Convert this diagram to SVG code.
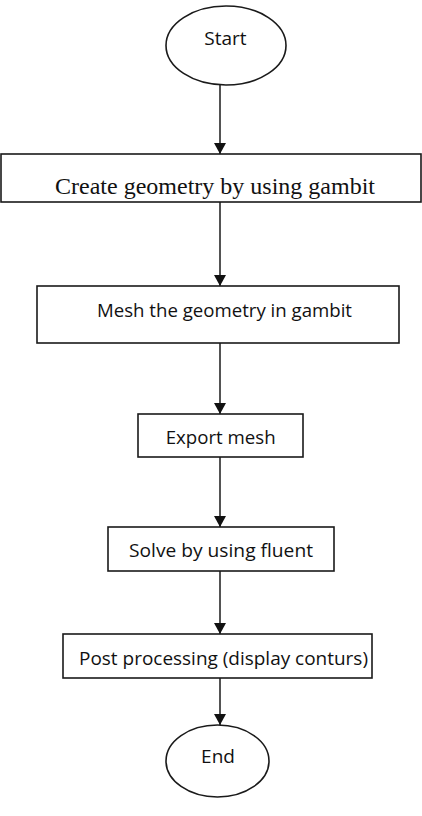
<svg xmlns="http://www.w3.org/2000/svg" width="422" height="816" viewBox="0 0 422 816">
<style>
.shape{fill:#fff;stroke:#1a1a1a;stroke-width:1.6}
.conn{stroke:#1a1a1a;stroke-width:1.5;fill:none;marker-end:url(#arr)}
.sans{font-family:"Open Sans","Noto Sans","Liberation Sans",sans-serif;font-size:19px;fill:#111;text-anchor:middle}
.serif{font-family:"Liberation Serif","Times New Roman",serif;font-size:24px;fill:#111;text-anchor:middle}
</style>
<defs>
<marker id="arr" markerUnits="userSpaceOnUse" markerWidth="12" markerHeight="13" refX="11" refY="6" orient="auto" viewBox="0 0 12 12">
<path d="M0,0 L11,6 L0,12 Z" fill="#111"/>
</marker>
</defs>
<rect width="422" height="816" fill="#fff"/>
<g id="connectors">
<line class="conn" x1="220" y1="85" x2="220" y2="154"/>
<line class="conn" x1="220" y1="202" x2="220" y2="286"/>
<line class="conn" x1="220" y1="343" x2="220" y2="414"/>
<line class="conn" x1="220" y1="457" x2="220" y2="527"/>
<line class="conn" x1="220" y1="571" x2="220" y2="634"/>
<line class="conn" x1="220" y1="678" x2="220" y2="725"/>
</g>
<g id="start">
<ellipse class="shape" cx="226" cy="45.5" rx="60" ry="39.5"/>
<text class="sans" x="225.5" y="45">Start</text>
</g>
<g id="create">
<rect class="shape" x="1" y="154" width="420" height="48"/>
<text class="serif" x="215" y="194" textLength="320" lengthAdjust="spacingAndGlyphs">Create geometry by using gambit</text>
</g>
<g id="mesh">
<rect class="shape" x="37" y="286" width="362" height="57"/>
<text class="sans" x="224.5" y="317" textLength="255" lengthAdjust="spacingAndGlyphs">Mesh the geometry in gambit</text>
</g>
<g id="export">
<rect class="shape" x="138" y="414" width="165" height="43"/>
<text class="sans" x="220.7" y="444" textLength="110" lengthAdjust="spacingAndGlyphs">Export mesh</text>
</g>
<g id="solve">
<rect class="shape" x="108" y="527" width="226" height="44"/>
<text class="sans" x="221" y="557" textLength="184" lengthAdjust="spacingAndGlyphs">Solve by using fluent</text>
</g>
<g id="post">
<rect class="shape" x="63" y="634" width="309" height="44"/>
<text class="sans" x="223.5" y="665" textLength="289" lengthAdjust="spacingAndGlyphs">Post processing (display conturs)</text>
</g>
<g id="end">
<ellipse class="shape" cx="217.5" cy="761" rx="51.5" ry="36"/>
<text class="sans" x="218" y="763">End</text>
</g>
</svg>
